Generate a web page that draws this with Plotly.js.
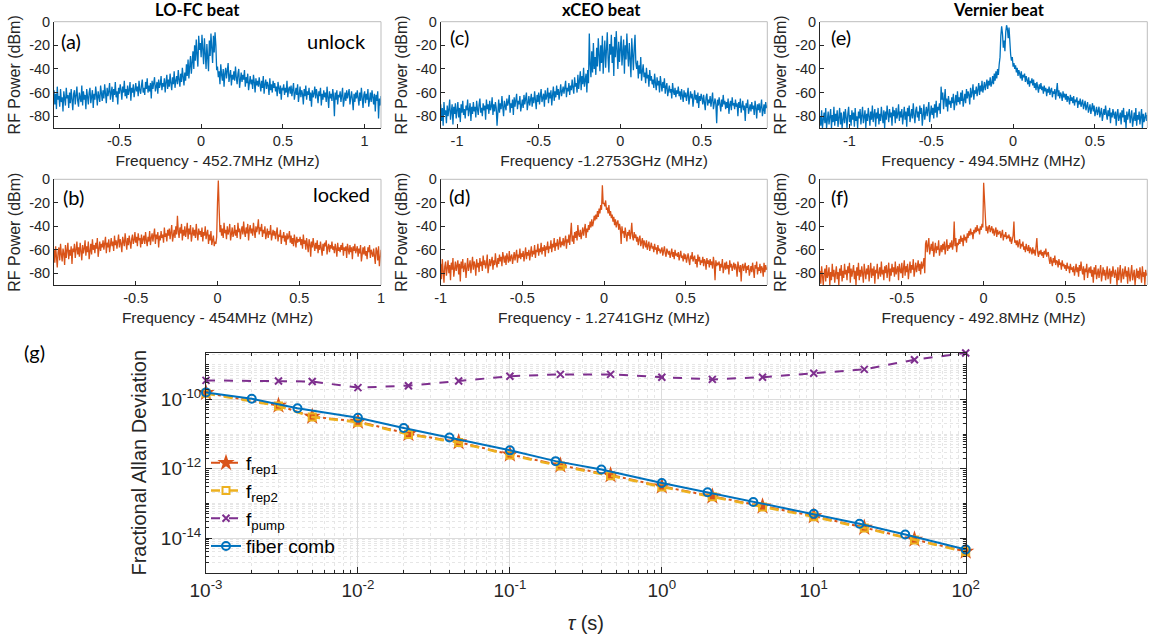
<!DOCTYPE html>
<html>
<head>
<meta charset="utf-8">
<script src="https://cdn.plot.ly/plotly-3.0.1.min.js"></script>
<style>html,body{margin:0;padding:0;background:#fff;}#chart{width:1150px;height:641px;}</style>
</head>
<body>
<div id="chart"></div>
<script>
// ---------- Spectra (dBm), sampled every 0.005 MHz ----------
const rangeA = [-0.90, 1.10];
const specA = [
-58,-70,-61,-74,-55,-66,-63,-72,-57,-68,
-64,-76,-59,-67,-71,-56,-65,-62,-73,-60,
-69,-57,-66,-75,-61,-58,-70,-64,-55,-67,
-72,-60,-63,-68,-54,-71,-59,-66,-62,-74,
-57,-65,-70,-60,-56,-69,-63,-58,-73,-61,
-66,-55,-62,-71,-59,-64,-68,-54,-60,-67,
-58,-65,-53,-61,-69,-56,-63,-59,-52,-66,
-60,-55,-68,-57,-62,-51,-64,-59,-70,-56,
-61,-53,-58,-66,-55,-60,-50,-63,-57,-65,
-54,-62,-58,-51,-67,-56,-60,-53,-64,-57,
-52,-59,-55,-63,-50,-58,-61,-54,-49,-60,
-56,-62,-51,-57,-48,-60,-54,-59,-52,-65,
-50,-57,-53,-47,-59,-55,-51,-61,-49,-56,
-53,-46,-58,-52,-55,-48,-60,-51,-45,-57,
-49,-55,-44,-52,-58,-47,-53,-42,-56,-50,
-46,-53,-41,-49,-55,-44,-51,-39,-48,-54,
-43,-50,-36,-46,-32,-48,-38,-29,-44,-34,
-25,-40,-20,-33,-15,-28,-38,-12,-24,-18,
-30,-11,-22,-36,-14,-27,-40,-19,-33,-42,
-16,-29,-10,-23,-35,-12,-26,-9,-20,-41,
-38,-47,-42,-53,-36,-45,-50,-40,-55,-44,
-39,-48,-43,-35,-51,-46,-41,-54,-45,-49,
-42,-50,-38,-47,-53,-44,-40,-56,-46,-43,
-51,-45,-49,-41,-55,-47,-52,-44,-58,-48,
-46,-53,-49,-57,-45,-51,-60,-48,-54,-50,
-55,-47,-52,-59,-50,-56,-46,-61,-53,-49,
-57,-51,-54,-62,-48,-58,-53,-60,-50,-56,
-52,-59,-55,-63,-51,-57,-61,-54,-66,-56,
-58,-53,-62,-56,-60,-50,-64,-57,-55,-61,
-54,-63,-58,-52,-66,-59,-56,-62,-53,-68,
-60,-55,-64,-58,-61,-70,-57,-63,-54,-66,
-59,-62,-56,-67,-60,-72,-58,-64,-61,-55,
-65,-57,-62,-69,-59,-63,-56,-71,-61,-66,
-58,-64,-60,-68,-55,-62,-73,-59,-65,-61,
-67,-57,-63,-80,-60,-66,-58,-70,-62,-64,
-59,-68,-61,-56,-72,-63,-60,-67,-58,-65,
-62,-57,-70,-64,-59,-66,-75,-61,-68,-60,
-65,-58,-63,-71,-60,-67,-56,-64,-73,-62,
-59,-69,-61,-66,-57,-72,-63,-60,-68,-58,
-64,-70,-61,-76,-62,-67,-59,-82,-65,-71,
-63];

const rangeB = [-1.00, 1.00];
const specB = [
-60,-71,-57,-66,-75,-62,-58,-69,-55,-64,
-70,-59,-63,-73,-56,-67,-61,-54,-68,-60,
-65,-57,-72,-59,-62,-55,-67,-60,-53,-64,
-58,-66,-54,-61,-69,-56,-63,-59,-52,-65,
-57,-62,-53,-68,-58,-55,-64,-51,-60,-56,
-63,-54,-59,-50,-66,-57,-53,-61,-55,-58,
-52,-60,-56,-49,-63,-54,-58,-51,-62,-55,
-50,-57,-53,-61,-48,-56,-52,-59,-54,-47,
-58,-51,-55,-62,-49,-54,-57,-46,-53,-60,
-50,-56,-48,-53,-59,-51,-47,-55,-52,-45,
-54,-49,-57,-46,-52,-50,-58,-47,-55,-51,
-48,-55,-45,-52,-57,-49,-53,-44,-56,-50,
-46,-53,-49,-42,-55,-47,-51,-45,-58,-48,
-52,-44,-50,-47,-54,-41,-49,-46,-53,-43,
-48,-42,-51,-45,-39,-53,-46,-43,-50,-40,
-47,-31,-44,-50,-41,-46,-38,-52,-43,-48,
-40,-49,-44,-37,-51,-42,-47,-39,-53,-45,
-41,-48,-43,-50,-38,-46,-52,-42,-47,-44,
-49,-41,-53,-45,-48,-40,-51,-46,-43,-55,
-47,-52,-44,-56,-50,-48,-57,-53,-55,-49,
-20,-1,-25,-45,-39,-48,-42,-50,-37,-46,
-43,-51,-40,-47,-44,-38,-52,-45,-41,-49,
-46,-39,-48,-43,-50,-37,-45,-42,-51,-44,
-40,-47,-36,-45,-49,-41,-46,-38,-52,-43,
-39,-46,-42,-48,-37,-44,-50,-40,-45,-41,
-34,-47,-41,-44,-38,-49,-43,-46,-40,-51,
-45,-42,-50,-44,-47,-39,-52,-46,-43,-48,
-44,-51,-46,-41,-53,-47,-49,-43,-55,-48,
-50,-45,-53,-48,-56,-46,-51,-49,-44,-54,
-48,-55,-50,-57,-47,-52,-58,-49,-54,-51,
-53,-49,-56,-51,-59,-47,-55,-52,-60,-50,
-57,-62,-51,-55,-66,-53,-58,-50,-56,-61,
-54,-59,-52,-63,-56,-60,-53,-58,-65,-55,
-61,-54,-57,-52,-64,-58,-55,-62,-56,-59,
-53,-60,-57,-63,-55,-59,-66,-54,-61,-58,
-62,-56,-60,-54,-65,-58,-61,-57,-67,-55,
-59,-64,-56,-62,-58,-68,-57,-61,-55,-63,
-60,-57,-66,-59,-63,-56,-70,-60,-58,-64,
-57,-65,-61,-68,-58,-62,-56,-67,-60,-63,
-66,-59,-64,-72,-58,-61,-69,-57,-74,-62,
-60];

const rangeC = [-1.10, 0.90];
const specC = [
-70,-84,-73,-88,-68,-79,-75,-86,-71,-80,
-74,-66,-83,-77,-70,-87,-72,-78,-69,-82,
-76,-68,-81,-73,-85,-70,-77,-67,-79,-74,
-82,-71,-75,-66,-80,-73,-69,-84,-72,-78,
-68,-76,-72,-81,-67,-74,-79,-70,-65,-77,
-73,-80,-69,-75,-71,-83,-66,-74,-70,-78,
-67,-75,-72,-64,-79,-70,-76,-68,-73,-88,
-71,-66,-77,-69,-74,-63,-72,-80,-67,-70,
-75,-65,-71,-68,-62,-77,-69,-73,-66,-79,
-64,-72,-68,-61,-74,-67,-70,-63,-76,-69,
-66,-73,-62,-70,-65,-60,-75,-68,-63,-71,
-67,-61,-72,-64,-69,-59,-66,-74,-62,-68,
-60,-70,-63,-57,-68,-65,-61,-72,-58,-66,
-63,-56,-69,-60,-65,-58,-71,-62,-55,-67,
-59,-64,-54,-62,-57,-66,-60,-53,-63,-58,
-55,-61,-57,-50,-64,-56,-59,-52,-62,-54,
-58,-49,-56,-61,-47,-55,-52,-60,-45,-57,
-50,-42,-58,-46,-53,-39,-55,-48,-44,-60,
-41,-52,-10,-36,-47,-25,-43,-18,-40,-30,
-45,-22,-38,-14,-33,-42,-20,-35,-12,-44,
-27,-16,-39,-24,-9,-31,-43,-19,-28,-11,
-35,-21,-46,-13,-30,-8,-25,-40,-17,-34,
-23,-12,-37,-29,-15,-44,-20,-32,-10,-26,
-38,-18,-30,-47,-14,-27,-41,-22,-11,-35,
-40,-33,-48,-37,-44,-30,-50,-42,-36,-47,
-43,-52,-39,-48,-45,-55,-41,-50,-46,-53,
-49,-56,-44,-52,-58,-47,-54,-50,-60,-46,
-53,-59,-51,-56,-48,-61,-55,-52,-63,-57,
-54,-60,-57,-65,-52,-59,-62,-56,-64,-58,
-61,-55,-63,-59,-66,-57,-62,-68,-58,-64,
-60,-67,-62,-56,-70,-63,-59,-65,-61,-72,
-64,-58,-66,-62,-69,-60,-73,-63,-67,-61,
-65,-70,-62,-68,-75,-64,-61,-71,-66,-69,
-63,-72,-67,-60,-74,-68,-65,-70,-86,-66,
-71,-64,-69,-76,-66,-72,-62,-70,-67,-74,
-68,-73,-65,-78,-70,-67,-75,-64,-71,-69,
-74,-66,-72,-69,-80,-68,-73,-65,-77,-70,
-67,-75,-71,-84,-69,-73,-66,-78,-72,-70,
-76,-68,-74,-71,-79,-67,-73,-82,-70,-75,
-69,-77,-72,-66,-80,-74,-70,-78,-68,-73,
-71];

const rangeD = [-1.00, 1.00];
const specD = [
-72,-85,-68,-79,-88,-74,-70,-82,-76,-69,
-80,-73,-86,-71,-77,-67,-83,-75,-70,-78,
-74,-69,-81,-72,-87,-70,-76,-68,-79,-73,
-71,-84,-75,-67,-78,-72,-69,-80,-74,-66,
-77,-70,-73,-82,-68,-75,-71,-79,-67,-74,
-70,-78,-65,-73,-69,-76,-72,-64,-80,-71,
-68,-74,-70,-66,-77,-69,-73,-63,-71,-75,
-67,-72,-64,-70,-66,-74,-62,-69,-71,-65,
-73,-63,-68,-71,-61,-70,-66,-64,-72,-67,
-62,-69,-65,-60,-71,-64,-67,-59,-68,-63,
-66,-61,-70,-64,-58,-68,-62,-65,-60,-69,
-63,-57,-66,-61,-64,-56,-67,-60,-62,-55,
-65,-59,-62,-54,-64,-58,-61,-56,-66,-57,
-60,-53,-63,-57,-59,-52,-62,-55,-58,-50,
-61,-54,-57,-51,-60,-55,-49,-58,-53,-56,
-50,-57,-52,-48,-59,-51,-54,-47,-56,-49,
-37,-53,-48,-55,-45,-50,-44,-52,-39,-47,
-49,-43,-51,-46,-41,-48,-44,-38,-50,-42,
-45,-39,-43,-36,-41,-34,-40,-37,-31,-35,
-30,-34,-27,-32,-25,-29,-22,-26,-5,-21,
-20,-23,-18,-26,-24,-29,-22,-31,-27,-33,
-30,-36,-32,-39,-34,-41,-37,-35,-43,-38,
-42,-55,-40,-46,-44,-50,-41,-47,-53,-45,
-48,-43,-51,-46,-37,-49,-52,-45,-50,-47,
-53,-49,-56,-51,-48,-57,-54,-50,-59,-52,
-55,-58,-52,-60,-56,-53,-61,-57,-54,-59,
-57,-62,-55,-60,-58,-64,-56,-61,-59,-63,
-60,-58,-65,-61,-57,-63,-66,-59,-62,-64,
-61,-67,-63,-59,-66,-62,-68,-60,-65,-63,
-66,-62,-69,-64,-61,-67,-65,-70,-63,-68,
-64,-71,-66,-63,-69,-73,-65,-68,-62,-70,
-67,-65,-72,-68,-75,-64,-70,-66,-73,-69,
-71,-66,-74,-68,-70,-77,-67,-72,-69,-75,
-68,-73,-70,-76,-66,-72,-86,-69,-74,-71,
-73,-70,-78,-72,-75,-68,-80,-74,-71,-77,
-70,-76,-73,-81,-69,-75,-72,-78,-74,-71,
-77,-72,-75,-83,-70,-76,-79,-73,-87,-74,
-72,-78,-75,-71,-80,-74,-77,-73,-82,-76,
-74,-79,-71,-77,-84,-73,-76,-70,-81,-75,
-78,-72,-80,-74,-76,-83,-71,-79,-73,-77,
-75];

const rangeE = [-1.18, 0.82];
const specE = [
-80,-88,-75,-90,-83,-77,-86,-73,-90,-81,
-76,-87,-82,-74,-90,-79,-85,-72,-88,-78,
-84,-75,-89,-80,-73,-87,-77,-90,-82,-76,
-86,-74,-81,-90,-78,-72,-85,-79,-88,-75,
-83,-77,-89,-73,-84,-80,-90,-76,-82,-74,
-87,-79,-72,-86,-81,-75,-90,-78,-84,-73,
-80,-88,-76,-83,-71,-85,-79,-74,-89,-77,
-82,-73,-87,-78,-84,-72,-80,-86,-75,-90,
-76,-83,-71,-79,-85,-74,-81,-77,-88,-72,
-80,-75,-86,-73,-82,-78,-70,-84,-76,-81,
-74,-87,-79,-72,-83,-76,-89,-73,-80,-71,
-85,-77,-74,-82,-69,-79,-86,-75,-72,-81,
-76,-84,-71,-78,-73,-88,-75,-70,-83,-77,
-72,-80,-74,-68,-85,-76,-71,-79,-73,-82,
-70,-77,-67,-81,-72,-75,-69,-78,-55,-66,
-60,-74,-68,-57,-72,-65,-76,-63,-70,-67,
-73,-64,-69,-61,-75,-66,-62,-71,-59,-68,
-64,-70,-60,-67,-58,-72,-63,-61,-69,-57,
-65,-59,-62,-70,-56,-64,-60,-53,-66,-58,
-61,-55,-63,-57,-52,-62,-54,-59,-50,-60,
-56,-51,-58,-53,-49,-57,-50,-54,-47,-55,
-52,-46,-53,-44,-50,-42,-48,-40,-45,-36,
-30,-12,-4,-10,-22,-16,-25,-9,-3,-6,
-14,-5,-20,-28,-33,-30,-38,-35,-40,-37,
-43,-39,-46,-41,-44,-48,-42,-50,-45,-47,
-44,-51,-46,-49,-53,-47,-55,-50,-52,-48,
-54,-49,-56,-52,-58,-51,-55,-60,-53,-57,
-52,-58,-55,-61,-54,-59,-56,-63,-57,-60,
-55,-62,-58,-56,-64,-59,-61,-57,-66,-60,
-52,-63,-58,-65,-60,-62,-67,-59,-64,-61,
-66,-61,-68,-63,-65,-70,-62,-67,-64,-69,
-63,-71,-66,-68,-64,-73,-67,-70,-65,-72,
-69,-66,-74,-70,-67,-75,-71,-68,-77,-72,
-70,-78,-73,-69,-76,-71,-80,-74,-72,-79,
-75,-72,-81,-76,-73,-84,-77,-74,-79,-71,
-78,-83,-75,-80,-73,-86,-77,-81,-74,-79,
-82,-76,-88,-78,-74,-84,-80,-77,-87,-75,
-81,-73,-85,-79,-90,-76,-83,-78,-74,-86,
-80,-75,-89,-82,-77,-84,-73,-88,-79,-83,
-76,-87,-81,-74,-90,-78,-85,-80,-77,-84,
-79];

const rangeF = [-1.00, 1.00];
const specF = [
-78,-89,-74,-85,-90,-80,-76,-87,-73,-84,
-81,-75,-90,-79,-86,-72,-83,-77,-88,-80,
-74,-85,-79,-90,-76,-82,-73,-87,-78,-84,
-72,-81,-77,-86,-74,-80,-71,-88,-76,-83,
-79,-73,-85,-78,-90,-75,-82,-71,-86,-77,
-83,-74,-80,-88,-72,-79,-85,-76,-81,-73,
-87,-78,-71,-84,-76,-82,-74,-89,-77,-80,
-72,-85,-79,-75,-83,-70,-81,-77,-86,-74,
-80,-73,-84,-78,-71,-87,-76,-82,-72,-79,
-75,-83,-70,-81,-77,-74,-86,-72,-78,-80,
-71,-84,-76,-69,-82,-74,-79,-72,-85,-75,
-70,-80,-73,-77,-68,-83,-75,-71,-79,-74,
-69,-78,-72,-81,-70,-76,-73,-67,-80,-55,
-52,-62,-56,-50,-64,-58,-55,-61,-53,-66,
-59,-54,-63,-57,-60,-52,-65,-58,-56,-62,
-55,-60,-53,-64,-57,-51,-61,-56,-59,-54,
-58,-52,-60,-55,-36,-57,-50,-62,-54,-56,
-51,-55,-48,-53,-50,-57,-47,-52,-49,-54,
-46,-50,-44,-48,-42,-47,-45,-51,-43,-46,
-41,-45,-39,-44,-42,-47,-40,-43,-38,-41,
-3,-20,-38,-44,-40,-46,-41,-39,-45,-43,
-40,-46,-42,-48,-44,-41,-49,-43,-47,-45,
-44,-50,-46,-43,-52,-47,-49,-45,-51,-48,
-50,-47,-53,-49,-55,-51,-48,-36,-54,-52,
-56,-52,-58,-54,-51,-59,-55,-57,-53,-60,
-57,-62,-55,-59,-61,-56,-63,-58,-60,-64,
-58,-63,-60,-65,-59,-50,-62,-66,-61,-64,
-60,-65,-62,-67,-61,-64,-59,-66,-63,-62,
-68,-72,-66,-70,-74,-67,-71,-65,-73,-69,
-70,-75,-68,-73,-71,-77,-69,-74,-72,-76,
-73,-78,-71,-76,-74,-80,-72,-77,-75,-79,
-74,-82,-76,-72,-79,-75,-83,-73,-78,-70,
-77,-81,-74,-86,-76,-79,-72,-84,-78,-75,
-80,-74,-83,-77,-88,-75,-81,-73,-85,-79,
-76,-84,-78,-73,-87,-80,-75,-82,-77,-86,
-79,-74,-85,-81,-76,-89,-78,-83,-74,-80,
-84,-77,-81,-90,-75,-86,-79,-73,-88,-82,
-76,-85,-80,-74,-83,-78,-89,-75,-81,-87,
-79,-73,-86,-82,-77,-90,-80,-76,-84,-78,
-85,-75,-81,-88,-74,-83,-79,-90,-77,-82,
-80];

// ---------- Allan deviation ----------
const tauComb  = [1e-3, 2e-3, 4e-3, 1e-2, 2e-2, 4e-2, 0.1, 0.2, 0.4, 1, 2, 4, 10, 20, 40, 100];
const adevComb = [1.6e-10, 1.05e-10, 5.6e-11, 2.95e-11, 1.5e-11, 8e-12, 3.4e-12, 1.66e-12, 9.5e-13, 3.9e-13, 2.1e-13, 1.1e-13, 5e-14, 2.6e-14, 1.26e-14, 4.7e-15];
const tauRep   = [1e-3, 3e-3, 5e-3, 1e-2, 2.15e-2, 4.6e-2, 0.1, 0.215, 0.46, 1, 2.15, 4.6, 10, 21.5, 46, 100];
const adevRep1 = [1.55e-10, 6.7e-11, 3.2e-11, 2.3e-11, 1.02e-11, 5.9e-12, 2.6e-12, 1.26e-12, 6.6e-13, 3.1e-13, 1.6e-13, 8.2e-14, 4.3e-14, 2.0e-14, 9.1e-15, 4.1e-15];
const adevRep2 = [1.5e-10, 6.5e-11, 3.1e-11, 2.2e-11, 9.8e-12, 5.7e-12, 2.5e-12, 1.2e-12, 6.3e-13, 3.0e-13, 1.55e-13, 7.9e-14, 4.1e-14, 1.95e-14, 8.8e-15, 4.0e-15];
const adevPump = [3.55e-10, 3.4e-10, 3.3e-10, 2.2e-10, 2.5e-10, 3.4e-10, 4.7e-10, 5.3e-10, 5.3e-10, 4.4e-10, 3.8e-10, 4.4e-10, 5.7e-10, 7.4e-10, 1.4e-9, 2.2e-9];

// ---------- tick labels ----------
const dbTicks = [-80, -60, -40, -20, 0];
const dbLabels = ['-80', '-60', '-40', '-20', '0'];
const tauTicks = [1e-3, 1e-2, 1e-1, 1, 10, 100];
const tauLabels = ['10<sup>-3</sup>', '10<sup>-2</sup>', '10<sup>-1</sup>', '10<sup>0</sup>', '10<sup>1</sup>', '10<sup>2</sup>'];
const adevTicks = [1e-14, 1e-12, 1e-10];
const adevLabels = ['10<sup>-14</sup>', '10<sup>-12</sup>', '10<sup>-10</sup>'];

const BLUE = '#0072BD', ORANGE = '#D95319', YELLOW = '#EDB120', PURPLE = '#7E2F8E';
const AX = '#262626';
const TF = '"Liberation Sans", Arial, sans-serif';
const CF = 'Lato, "Open Sans", sans-serif';

function freqGrid(arr, r) {
  const n = arr.length;
  return arr.map((_, i) => r[0] + i * (r[1] - r[0]) / (n - 1));
}

const W = 1150, H = 641;
const px = v => v / W, py = v => 1 - v / H;

const panels = [
  {id: '',  data: specA, rng: rangeA, color: BLUE,   xd: [54, 381],      yd: [21.7, 128],  xt: [-0.5, 0, 0.5, 1],  xl: ['-0.5','0','0.5','1'], title: 'Frequency - 452.7MHz (MHz)'},
  {id: '2', data: specC, rng: rangeC, color: BLUE,   xd: [440.7, 767.3], yd: [21.7, 128],  xt: [-1, -0.5, 0, 0.5], xl: ['-1','-0.5','0','0.5'], title: 'Frequency -1.2753GHz (MHz)'},
  {id: '3', data: specE, rng: rangeE, color: BLUE,   xd: [820, 1147.3],  yd: [21.7, 128],  xt: [-1, -0.5, 0, 0.5], xl: ['-1','-0.5','0','0.5'], title: 'Frequency - 494.5MHz (MHz)'},
  {id: '4', data: specB, rng: rangeB, color: ORANGE, xd: [54, 381],      yd: [179.3, 285], xt: [-0.5, 0, 0.5, 1],  xl: ['-0.5','0','0.5','1'], title: 'Frequency - 454MHz (MHz)'},
  {id: '5', data: specD, rng: rangeD, color: ORANGE, xd: [440.7, 767.3], yd: [179.3, 285], xt: [-1, -0.5, 0, 0.5], xl: ['-1','-0.5','0','0.5'], title: 'Frequency - 1.2741GHz (MHz)'},
  {id: '6', data: specF, rng: rangeF, color: ORANGE, xd: [820, 1147.3],  yd: [179.3, 285], xt: [-0.5, 0, 0.5, 1],  xl: ['-0.5','0','0.5','1'], title: 'Frequency - 492.8MHz (MHz)'}
];

const traces = [];
const layout = {
  width: W, height: H, autosize: false,
  margin: {l: 0, r: 0, t: 0, b: 0},
  paper_bgcolor: '#fff', plot_bgcolor: '#fff',
  showlegend: true,
  font: {family: TF, color: AX},
  shapes: [], annotations: []
};

panels.forEach(p => {
  traces.push({
    type: 'scatter', mode: 'lines',
    x: freqGrid(p.data, p.rng), y: p.data,
    xaxis: 'x' + p.id, yaxis: 'y' + p.id,
    line: {color: p.color, width: 1.3},
    showlegend: false, hoverinfo: 'skip'
  });
  layout['xaxis' + p.id] = {
    domain: [px(p.xd[0]), px(p.xd[1])], anchor: 'y' + p.id,
    range: p.rng, showgrid: false, zeroline: false,
    showline: true, linecolor: AX, linewidth: 1,
    ticks: 'inside', ticklen: 4, tickcolor: AX,
    tickmode: 'array', tickvals: p.xt, ticktext: p.xl,
    tickfont: {family: TF, size: 14.5, color: AX},
    title: {text: p.title, font: {family: TF, size: 15.5, color: AX}, standoff: 6}
  };
  layout['yaxis' + p.id] = {
    domain: [py(p.yd[1]), py(p.yd[0])], anchor: 'x' + p.id,
    range: [-90, 0], showgrid: false, zeroline: false,
    showline: true, linecolor: AX, linewidth: 1,
    ticks: 'inside', ticklen: 4, tickcolor: AX,
    tickmode: 'array', tickvals: dbTicks, ticktext: dbLabels,
    tickfont: {family: TF, size: 14.5, color: AX},
    title: {text: 'RF Power (dBm)', font: {family: TF, size: 16, color: AX}, standoff: 4}
  };
  const xr = (p.id === '' ? 'x' : 'x' + p.id) + ' domain';
  const yr = (p.id === '' ? 'y' : 'y' + p.id) + ' domain';
  layout.shapes.push({type: 'line', xref: xr, yref: yr, x0: 0, x1: 1, y0: 1, y1: 1, line: {color: '#bdbdbd', width: 1}});
  layout.shapes.push({type: 'line', xref: xr, yref: yr, x0: 1, x1: 1, y0: 0, y1: 1, line: {color: '#bdbdbd', width: 1}});
});

// Allan deviation traces
traces.push({
  type: 'scatter', mode: 'lines+markers', name: 'f<sub>rep1</sub>',
  x: tauRep, y: adevRep1, xaxis: 'x7', yaxis: 'y7',
  line: {color: ORANGE, width: 2, dash: 'dashdot'},
  marker: {symbol: 'star', size: 13, color: ORANGE, line: {color: ORANGE, width: 0}},
  cliponaxis: false
});
traces.push({
  type: 'scatter', mode: 'lines+markers', name: 'f<sub>rep2</sub>',
  x: tauRep, y: adevRep2, xaxis: 'x7', yaxis: 'y7',
  line: {color: YELLOW, width: 2.5, dash: 'dash'},
  marker: {symbol: 'square-open', size: 7, color: YELLOW, line: {color: YELLOW, width: 2}},
  cliponaxis: false
});
traces.push({
  type: 'scatter', mode: 'lines+markers', name: 'f<sub>pump</sub>',
  x: tauRep, y: adevPump, xaxis: 'x7', yaxis: 'y7',
  line: {color: PURPLE, width: 2, dash: 'dash'},
  marker: {symbol: 'x-thin-open', size: 7, color: PURPLE, line: {color: PURPLE, width: 2}},
  cliponaxis: false
});
traces.push({
  type: 'scatter', mode: 'lines+markers', name: 'fiber comb',
  x: tauComb, y: adevComb, xaxis: 'x7', yaxis: 'y7',
  line: {color: BLUE, width: 2},
  marker: {symbol: 'circle-open', size: 8, color: BLUE, line: {color: BLUE, width: 2}},
  cliponaxis: false
});

function minorVals(d0, d1, skip) {
  const out = [];
  for (let d = d0; d <= d1; d++) {
    for (let k = 1; k <= 9; k++) {
      const v = k * Math.pow(10, d);
      if (!skip.some(s => Math.abs(s - v) / v < 1e-9)) out.push(v);
    }
  }
  return out;
}

layout.xaxis7 = {
  type: 'log', domain: [px(206), px(965.7)], anchor: 'y7',
  range: [-3, 2], zeroline: false,
  showline: true, linecolor: AX, linewidth: 1, mirror: 'allticks',
  showgrid: true, gridcolor: '#dcdcdc', gridwidth: 1,
  ticks: 'inside', ticklen: 6, tickcolor: AX,
  tickmode: 'array', tickvals: tauTicks, ticktext: tauLabels,
  tickfont: {family: TF, size: 19, color: AX},
  minor: {tickmode: 'array', tickvals: minorVals(-3, 1, tauTicks), ticks: 'inside', ticklen: 3, tickcolor: AX,
          showgrid: true, gridcolor: '#e6e6e6', griddash: 'dot', gridwidth: 1},
  title: {text: '<i>τ</i> (s)', font: {family: TF, size: 20, color: AX}, standoff: 16}
};
layout.yaxis7 = {
  type: 'log', domain: [py(572.7), py(352.7)], anchor: 'x7',
  range: [-15, -8.65], zeroline: false,
  showline: true, linecolor: AX, linewidth: 1, mirror: 'allticks',
  showgrid: true, gridcolor: '#dcdcdc', gridwidth: 1,
  ticks: 'inside', ticklen: 6, tickcolor: AX,
  tickmode: 'array', tickvals: adevTicks, ticktext: adevLabels,
  tickfont: {family: TF, size: 19, color: AX},
  minor: {tickmode: 'array', tickvals: minorVals(-15, -9, adevTicks), ticks: 'inside', ticklen: 3, tickcolor: AX,
          showgrid: true, gridcolor: '#e6e6e6', griddash: 'dot', gridwidth: 1},
  title: {text: 'Fractional Allan Deviation', font: {family: TF, size: 20, color: AX}, standoff: 8}
};

layout.legend = {
  x: px(206), y: py(444), xanchor: 'left', yanchor: 'top',
  bgcolor: 'rgba(0,0,0,0)', borderwidth: 0,
  font: {family: TF, size: 19, color: '#000'},
  itemwidth: 30, tracegroupgap: 0
};

// Titles and panel labels
const ann = (x, y, text, opts) => Object.assign({
  xref: 'paper', yref: 'paper', x: px(x), y: py(y), text: text, showarrow: false,
  xanchor: 'left', yanchor: 'middle', font: {family: CF, size: 20, color: '#000'}
}, opts || {});

layout.annotations.push(
  ann(197, 10, '<b>LO-FC beat</b>', {xanchor: 'center', font: {family: CF, size: 16.5, color: '#000'}}),
  ann(601.7, 10, '<b>xCEO beat</b>', {xanchor: 'center', font: {family: CF, size: 16.5, color: '#000'}}),
  ann(999, 10, '<b>Vernier beat</b>', {xanchor: 'center', font: {family: CF, size: 16.5, color: '#000'}}),
  ann(59, 41, '(a)'),
  ann(368, 41, 'unlock', {xanchor: 'right'}),
  ann(61, 197, '(b)'),
  ann(372, 194, 'locked', {xanchor: 'right'}),
  ann(448, 37, '(c)'),
  ann(447, 196, '(d)'),
  ann(829, 37, '(e)'),
  ann(829, 197, '(f)'),
  ann(22, 352, '(g)', {font: {family: CF, size: 20, color: '#000'}})
);

Plotly.newPlot('chart', traces, layout, {staticPlot: true, displayModeBar: false});
</script>
</body>
</html>
